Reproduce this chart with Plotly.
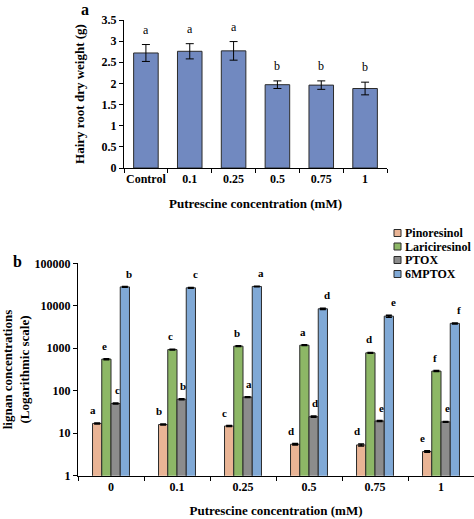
import plotly.graph_objects as go
import math

# ---- Panel a data ----
cats_a = ["Control", "0.1", "0.25", "0.5", "0.75", "1"]
weight = [2.72, 2.76, 2.77, 1.97, 1.96, 1.88]
weight_err = [0.20, 0.18, 0.22, 0.09, 0.10, 0.15]
letters_a = ["a", "a", "a", "b", "b", "b"]

# ---- Panel b data ----
cats_b = ["0", "0.1", "0.25", "0.5", "0.75", "1"]
series_names = ["Pinoresinol", "Lariciresinol", "PTOX", "6MPTOX"]
pinoresinol = [17.0, 16.0, 14.8, 5.5, 5.3, 3.7]
lariciresinol = [555, 930, 1120, 1180, 780, 290]
ptox = [50, 63, 71, 24.5, 19.4, 18.5]
mptox6 = [27800, 26500, 28500, 8500, 5700, 3850]
pinoresinol_err = [0.5, 0.4, 0.4, 0.2, 0.3, 0.15]
lariciresinol_err = [15, 20, 25, 25, 20, 8]
ptox_err = [1.2, 1.5, 1.5, 0.8, 0.5, 0.4]
mptox6_err = [500, 500, 500, 300, 300, 100]
letters_b = [
    ["a", "b", "c", "d", "d", "e"],
    ["e", "c", "b", "a", "d", "f"],
    ["c", "b", "a", "d", "e", "e"],
    ["b", "c", "a", "d", "e", "f"],
]
colors_b = ["#e9b495", "#8db766", "#8c8c8c", "#80a9d6"]

FONT = "Liberation Serif"
W, H = 474, 519

def px_x(p):
    return p / W

def px_y(p):
    return 1 - p / H

fig = go.Figure()

fig.add_trace(go.Bar(
    x=cats_a, y=weight, xaxis="x", yaxis="y", showlegend=False,
    marker=dict(color="#7189c0", line=dict(color="#2b2b2b", width=1)),
    error_y=dict(type="data", array=weight_err, color="black", thickness=1, width=4),
))

vals_b = [pinoresinol, lariciresinol, ptox, mptox6]
errs_b = [pinoresinol_err, lariciresinol_err, ptox_err, mptox6_err]
for name, v, e, c in zip(series_names, vals_b, errs_b, colors_b):
    fig.add_trace(go.Bar(
        x=cats_b, y=v, name=name, xaxis="x2", yaxis="y2", showlegend=False,
        marker=dict(color=c, line=dict(color="#2b2b2b", width=1)),
        error_y=dict(type="data", array=e, color="black", thickness=1.5, width=3),
    ))

annotations = []
shapes = []
# letters panel a
for i, (v, e, l) in enumerate(zip(weight, weight_err, letters_a)):
    annotations.append(dict(x=i, y=v + e, xref="x", yref="y", text=l, showarrow=False,
                            xanchor="center", yanchor="bottom", yshift=6,
                            font=dict(family=FONT, size=12, color="black")))
# letters panel b
bargap_b = 0.27
bw = (1 - bargap_b) / 4
for s in range(4):
    off = -(1 - bargap_b) / 2 + bw * (s + 0.5)
    for i in range(6):
        annotations.append(dict(x=i + off, y=math.log10(vals_b[s][i] + errs_b[s][i]), xref="x2", yref="y2",
                                text=letters_b[s][i], showarrow=False, xanchor="center", yanchor="bottom",
                                yshift=5, font=dict(family=FONT, size=11, color="black", weight="bold")))

# panel labels
annotations.append(dict(x=px_x(85), y=px_y(9), xref="paper", yref="paper", text="a", showarrow=False,
                        xanchor="center", yanchor="middle",
                        font=dict(family=FONT, size=16, color="black", weight="bold")))
annotations.append(dict(x=px_x(17), y=px_y(261), xref="paper", yref="paper", text="b", showarrow=False,
                        xanchor="center", yanchor="middle",
                        font=dict(family=FONT, size=16, color="black", weight="bold")))

# legend (panel b)
leg_rows = [233, 246.5, 260, 274]
for name, c, yy in zip(series_names, colors_b, leg_rows):
    shapes.append(dict(type="rect", xref="paper", yref="paper",
                       x0=px_x(394), x1=px_x(401), y0=px_y(yy + 3.5), y1=px_y(yy - 3.5),
                       fillcolor=c, line=dict(color="#2b2b2b", width=1)))
    annotations.append(dict(x=px_x(403), y=px_y(yy), xref="paper", yref="paper", text=name,
                            showarrow=False, xanchor="left", yanchor="middle",
                            font=dict(family=FONT, size=12, color="black", weight="bold")))

tickfont = dict(family=FONT, size=12, color="black", weight="bold")
titlefont = dict(family=FONT, size=13, color="black", weight="bold")

fig.update_layout(
    width=W, height=H, margin=dict(l=0, r=0, t=0, b=0, autoexpand=False),
    paper_bgcolor="white", plot_bgcolor="white",
    barmode="group",
    bargap=0.44,
    showlegend=False,
    hovermode=False,
    xaxis=dict(domain=[px_x(124), px_x(387)], anchor="y", type="category", automargin=False,
               showline=True, linecolor="black", linewidth=1, ticks="outside", tickson="boundaries",
               ticklen=4, tickcolor="black", tickfont=tickfont, tickangle=0,
               title=dict(text="Putrescine concentration (mM)", font=titlefont, standoff=13)),
    yaxis=dict(domain=[px_y(168), px_y(20)], anchor="x", range=[0, 3.5], dtick=0.5, automargin=False,
               showline=True, linecolor="black", linewidth=1, ticks="outside", ticklen=4,
               tickcolor="black", showgrid=False, zeroline=False, tickfont=tickfont,
               title=dict(text="Hairy root dry weight (g)", font=titlefont, standoff=14)),
    xaxis2=dict(domain=[px_x(78), 1.0], anchor="y2", type="category", automargin=False,
                showline=True, linecolor="black", linewidth=1, ticks="outside", tickson="boundaries",
                ticklen=4, tickcolor="black", tickfont=tickfont, tickangle=0,
                title=dict(text="Putrescine concentration (mM)", font=titlefont, standoff=12)),
    yaxis2=dict(domain=[px_y(475.7), px_y(263.3)], anchor="x2", type="log", range=[0, 5], automargin=False,
                tickvals=[1, 10, 100, 1000, 10000, 100000],
                ticktext=["1", "10", "100", "1000", "10000", "100000"],
                showline=True, linecolor="black", linewidth=1, ticks="outside", ticklen=4,
                tickcolor="black", showgrid=False, zeroline=False, tickfont=tickfont,
                title=dict(text="lignan concentrations<br>(Logarithmic scale)", font=titlefont, standoff=8)),
    annotations=annotations,
    shapes=shapes,
)

fig.write_html("out.html", config={"displayModeBar": False},
               post_script="document.body.style.margin='0';document.body.style.overflow='hidden';")
